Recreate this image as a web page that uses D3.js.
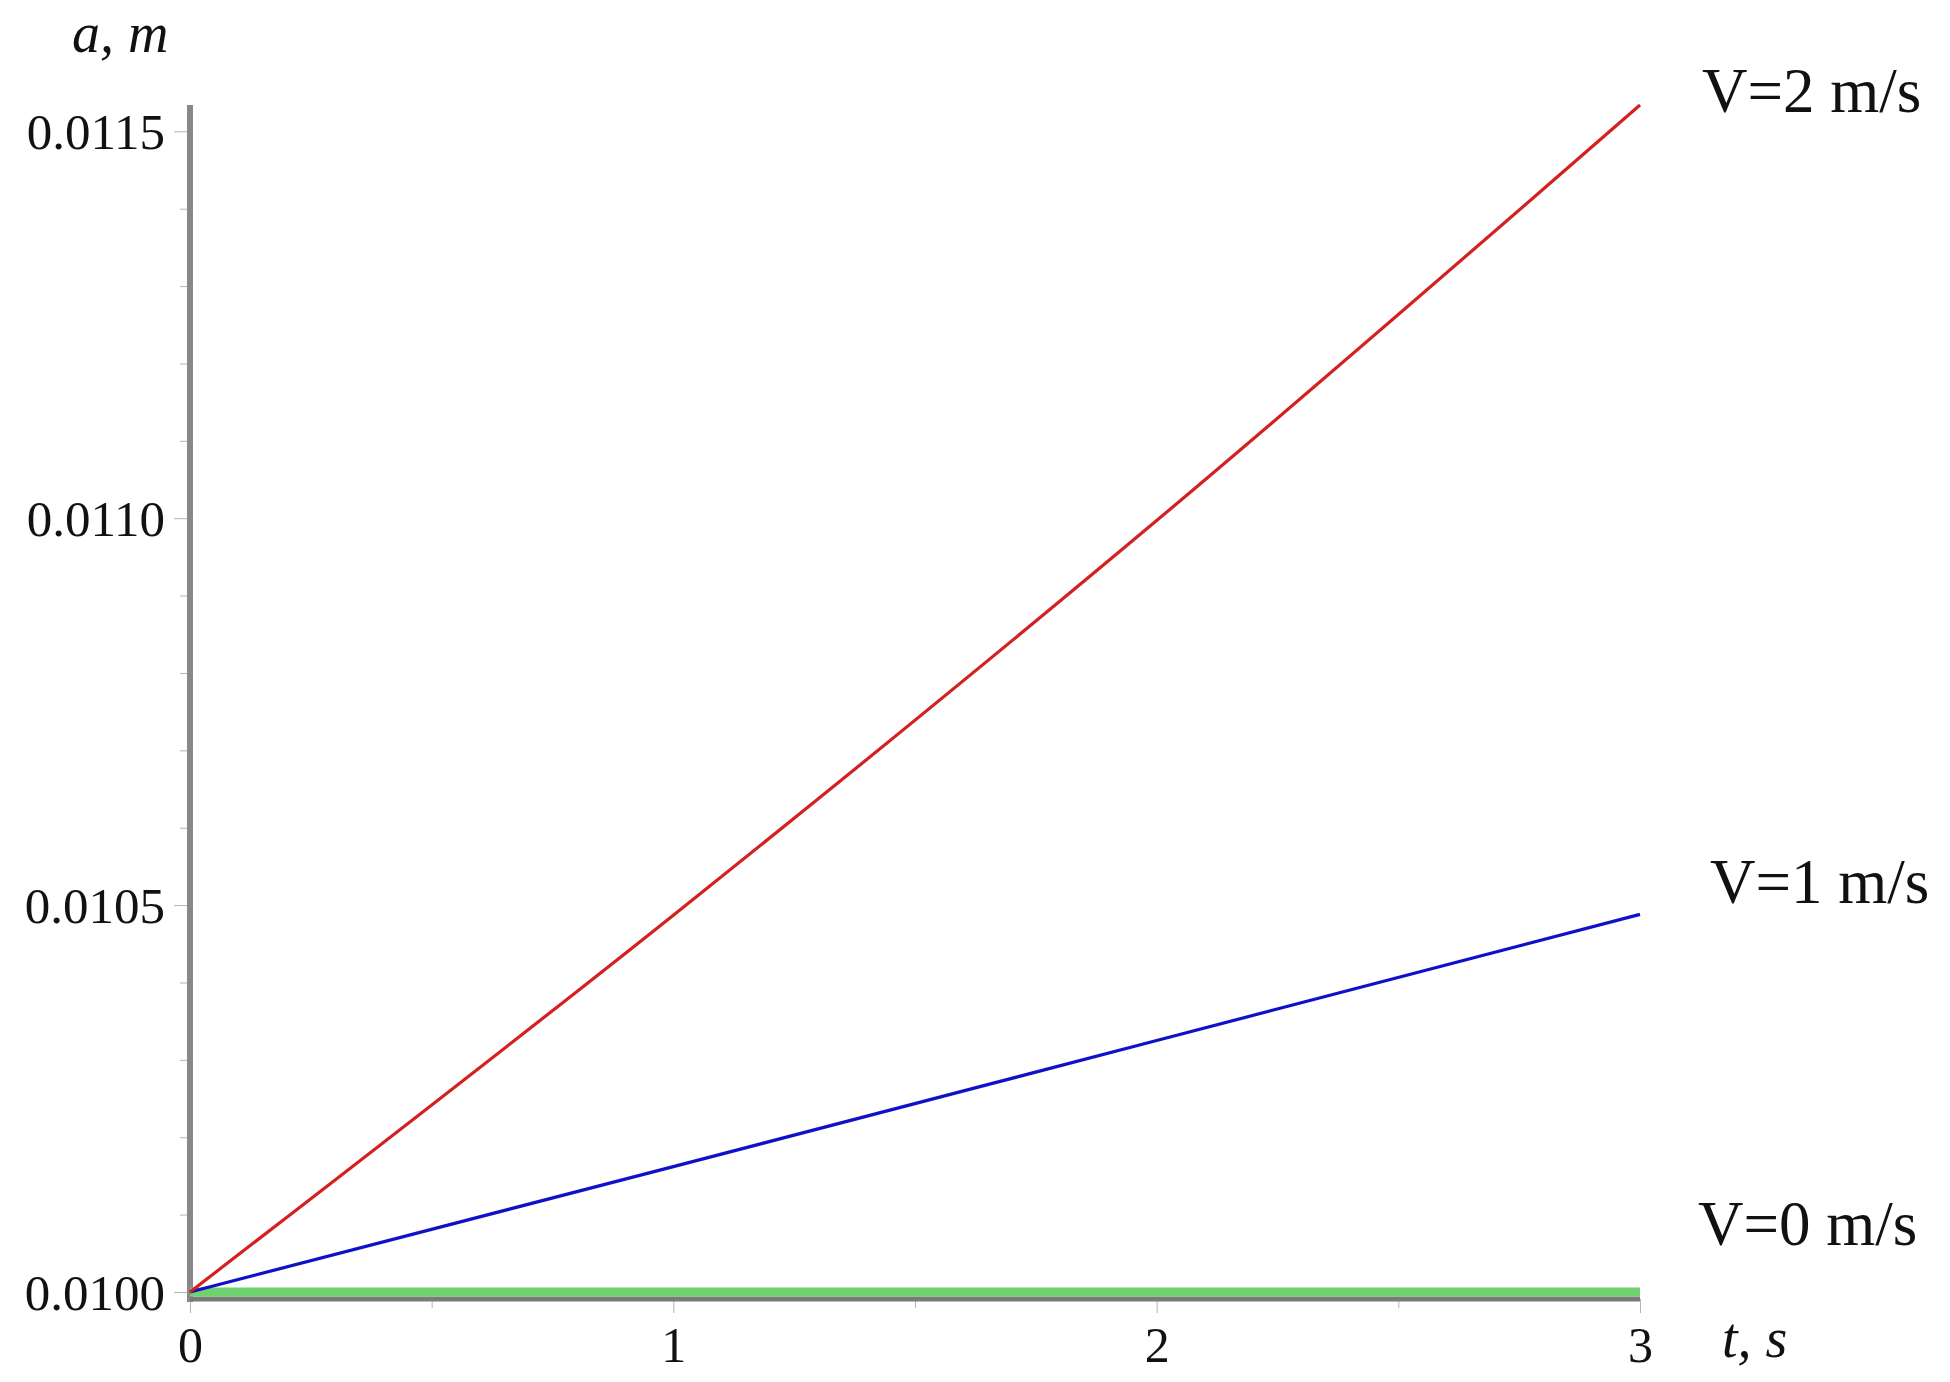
<!DOCTYPE html>
<html lang="en">
<head>
  <meta charset="utf-8" />
  <title>a(t) for different V</title>
  <script src="https://d3js.org/d3.v7.min.js"></script>
  <style>
    body { margin: 0; background: #ffffff; }
    svg text { font-family: "Liberation Serif", "Times New Roman", serif; fill: #111; }
  </style>
</head>
<body>
  <div id="graph"></div>
  <script>
    // values
    const tValues = [0, 1, 2, 3];
    const aV0 = [0.0100, 0.0100, 0.0100, 0.0100];
    const aV1 = [0.0100, 0.010162, 0.010325, 0.010488];
    const aV2 = [0.0100, 0.010487, 0.010997, 0.011534];
    const seriesNames = ["V=0 m/s", "V=1 m/s", "V=2 m/s"];
    const xTicks = [0, 1, 2, 3];
    const xMinorTicks = [0.5, 1.5, 2.5];
    const yTicks = [0.0100, 0.0105, 0.0110, 0.0115];
    const yMinorTicks = [0.0101, 0.0102, 0.0103, 0.0104, 0.0106, 0.0107, 0.0108, 0.0109, 0.0111, 0.0112, 0.0113, 0.0114];

    const width = 1950;
    const height = 1382;

    // plot area
    const x = d3.scaleLinear().domain([0, 3]).range([190, 1640]);
    const y = d3.scaleLinear().domain([0.0100, d3.max(aV2)]).range([1292, 105]);

    const svg = d3.select("#graph")
      .append("svg")
      .attr("width", width)
      .attr("height", height);

    // minor ticks on y
    svg.append("g")
      .attr("transform", `translate(${x(0)},0)`)
      .call(d3.axisLeft(y).tickValues(yMinorTicks).tickSize(10).tickFormat(""))
      .call(g => g.select(".domain").remove())
      .selectAll("line").attr("stroke", "#b5b5b5");

    // major ticks on y
    let yAxis = svg.append("g")
      .attr("transform", `translate(${x(0)},0)`)
      .call(d3.axisLeft(y).tickValues(yTicks).tickSize(16).tickPadding(9)
        .tickFormat(d3.format(".4f")));
    yAxis.select(".domain").remove();
    yAxis.selectAll("line").attr("stroke", "#b5b5b5");
    yAxis.selectAll("text")
      .style("font-size", "51px")
      .attr("dy", "0.34em");

    // minor ticks on x
    svg.append("g")
      .attr("transform", `translate(0,${y(0.0100) + 7})`)
      .call(d3.axisBottom(x).tickValues(xMinorTicks).tickSize(9).tickFormat(""))
      .call(g => g.select(".domain").remove())
      .selectAll("line").attr("stroke", "#b5b5b5");

    // major ticks on x
    let xAxis = svg.append("g")
      .attr("transform", `translate(0,${y(0.0100) + 7})`)
      .call(d3.axisBottom(x).tickValues(xTicks).tickSize(14).tickPadding(13)
        .tickFormat(d3.format("d")));
    xAxis.select(".domain").remove();
    xAxis.selectAll("line").attr("stroke", "#b5b5b5");
    xAxis.selectAll("text").style("font-size", "50px");

    // axis lines
    svg.append("line")
      .attr("x1", x(0)).attr("x2", x(0))
      .attr("y1", y(0.0100) + 10).attr("y2", y(d3.max(aV2)))
      .attr("stroke", "#888888")
      .attr("stroke-width", 6);
    svg.append("line")
      .attr("x1", x(0)).attr("x2", x(3))
      .attr("y1", y(0.0100) + 7).attr("y2", y(0.0100) + 7)
      .attr("stroke", "#7a7a7a")
      .attr("stroke-width", 5);

    // curves
    const series = [
      { name: seriesNames[0], values: aV0, color: "#6fd26f", w: 9 },
      { name: seriesNames[1], values: aV1, color: "#1010c8", w: 3.2 },
      { name: seriesNames[2], values: aV2, color: "#d42020", w: 3.2 }
    ];
    const line = d3.line()
      .x((d, i) => x(tValues[i]))
      .y(d => y(d))
      .curve(d3.curveMonotoneX);

    series.forEach(s => {
      svg.append("path")
        .datum(s.values)
        .attr("fill", "none")
        .attr("stroke", s.color)
        .attr("stroke-width", s.w)
        .attr("d", line);
    });

    // curve labels, offset from the line ends
    const labelOffsets = [[58, -47], [70, -11], [62, 7]];
    series.forEach((s, i) => {
      const last = s.values[s.values.length - 1];
      svg.append("text")
        .attr("x", x(3) + labelOffsets[i][0])
        .attr("y", y(last) + labelOffsets[i][1])
        .style("font-size", "63px")
        .text(s.name);
    });

    // axis titles
    svg.append("text")
      .attr("x", 72).attr("y", 52)
      .style("font-size", "56px")
      .style("font-style", "italic")
      .text("a, m");
    svg.append("text")
      .attr("x", 1722).attr("y", 1357)
      .style("font-size", "56px")
      .style("font-style", "italic")
      .text("t, s");
  </script>
</body>
</html>
